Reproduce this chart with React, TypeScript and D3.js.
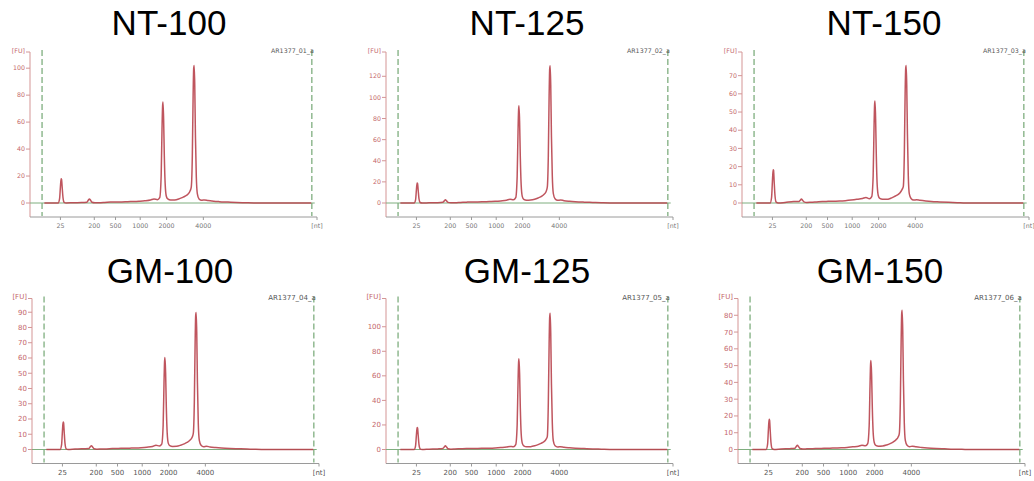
import React from "react";
import * as d3 from "d3";

// ---------- data ----------
const titles = ["NT-100", "NT-125", "NT-150", "GM-100", "GM-125", "GM-150"];
const sampleIds = ["AR1377_01_a", "AR1377_02_a", "AR1377_03_a", "AR1377_04_a", "AR1377_05_a", "AR1377_06_a"];
const yMaxes = [112, 143, 83, 99, 123, 90];
const yTickSteps = [20, 20, 10, 10, 20, 10];
const yTickMax = [100, 120, 70, 90, 100, 80];
const ladderNt = ["25", "200", "500", "1000", "2000", "4000"];
const ladderTimes = [24.3, 30.2, 33.9, 38.2, 42.8, 49.2];
const markerTimes = [21.1, 68.1];
const timeDomain = [19, 69];

const traceTimes = [
  21.5, 23.9, 24.15, 24.3, 24.42, 24.5, 24.6, 24.75, 24.95, 25.3,
  26.5, 28.0, 28.9, 29.15, 29.35, 29.55, 29.8, 30.3,
  31.0, 32.0, 33.0, 34.0, 35.0, 36.0, 37.0, 38.0, 39.0, 40.0, 40.6, 41.2, 41.6,
  41.85, 42.0, 42.1, 42.17, 42.28, 42.4, 42.55, 42.75, 43.0, 43.5,
  44.2, 44.9, 45.5, 46.0, 46.5, 46.9, 47.1,
  47.28, 47.42, 47.52, 47.6, 47.7, 47.82, 47.97, 48.15, 48.45, 48.9, 49.4, 50.0, 51.0, 52.0, 53.5, 55.0, 56.5, 58.0, 62.0, 68.0,
];

const fuNT100 = [
  0, 0, 3, 12, 18, 17.5, 12, 4, 0.5, 0,
  0.2, 0.3, 0.6, 2, 3, 2, 0.6, 0.2,
  0.2, 0.4, 0.7, 0.8, 0.8, 1, 1.1, 1.3, 1.6, 2.2, 3, 2.5, 4,
  20, 55, 72, 75, 62, 35, 14, 5, 3, 2.2,
  2.3, 3, 4, 5, 6.5, 9, 12,
  35, 80, 100, 102, 88, 50, 20, 7, 3, 2, 2.3, 1.8, 1.3, 1, 0.7, 0.4, 0.2, 0, 0, 0,
];
const fuNT125 = [
  0, 0, 3, 12.5, 19, 18.5, 12.5, 4, 0.5, 0,
  0.2, 0.3, 0.6, 2, 3, 2, 0.6, 0.2,
  0.2, 0.5, 0.8, 1, 1, 1.2, 1.4, 1.6, 2, 2.6, 3.5, 3, 5,
  25, 67, 88, 92, 76, 43, 17, 6, 3.5, 2.6,
  2.8, 3.6, 4.8, 6, 8, 11, 15,
  45, 102, 127, 130, 112, 64, 26, 9, 4, 2.5, 2.9, 2.2, 1.6, 1.2, 0.8, 0.5, 0.2, 0, 0, 0,
];
const fuNT150 = [
  0, 0, 3, 12, 18.3, 18, 12, 4, 0.5, 0,
  0.3, 0.8, 0.8, 1.5, 2.2, 1.5, 0.6, 0.3,
  0.4, 0.6, 0.8, 0.9, 1, 1.1, 1.3, 1.6, 2, 2.5, 3, 2.3, 3.5,
  15, 41, 54, 56, 46, 26, 10, 4, 2.5, 2,
  2, 2.6, 3.5, 4.3, 5.5, 7.5, 9,
  27, 60, 74, 75.6, 65, 38, 15, 5, 2.5, 1.6, 1.8, 1.5, 1.1, 0.8, 0.6, 0.4, 0.2, 0, 0, 0,
];
const fuGM100 = [
  0, 0, 3, 12, 18, 17.5, 12, 4, 0.5, 0,
  0.3, 0.5, 0.6, 1.8, 2.5, 1.7, 0.5, 0.2,
  0.3, 0.4, 0.6, 0.7, 0.8, 0.9, 1, 1.2, 1.5, 2, 2.8, 2.3, 3.5,
  16, 44, 58, 60.4, 50, 28, 11, 4, 2.5, 2,
  2.1, 2.8, 3.7, 4.6, 6, 8, 10.5,
  31, 70, 88, 89.8, 77, 44, 17, 6, 2.8, 1.8, 2.1, 1.7, 1.3, 1, 0.7, 0.5, 0.3, 0.1, 0, 0,
];
const fuGM125 = [
  0, 0, 3, 12, 18, 17.5, 12, 4, 0.5, 0,
  0.3, 0.5, 0.8, 2, 3, 2, 0.6, 0.3,
  0.4, 0.6, 0.8, 0.9, 0.9, 1, 1.1, 1.3, 1.6, 2, 2.5, 2.2, 4,
  20, 54, 71, 74, 61, 34, 13, 5, 3, 2.2,
  2.3, 3, 4, 5, 6.3, 8.5, 10.5,
  38, 86, 108, 111, 95, 54, 22, 7, 3, 2, 2.3, 1.8, 1.4, 1.1, 0.8, 0.5, 0.3, 0.1, 0, 0,
];
const fuGM150 = [
  0, 0, 3, 12, 18, 17.5, 12, 4, 0.5, 0,
  0.3, 0.5, 0.7, 1.8, 2.5, 1.7, 0.6, 0.3,
  0.4, 0.5, 0.6, 0.7, 0.8, 0.9, 1, 1.2, 1.6, 2, 2.6, 2.2, 3.5,
  14, 38, 51, 53, 44, 25, 10, 4, 2.5, 2,
  2.1, 2.7, 3.5, 4.4, 5.7, 7.5, 9.5,
  28, 64, 81, 83, 71, 41, 16, 5.5, 2.6, 1.7, 2, 1.6, 1.2, 0.9, 0.6, 0.4, 0.2, 0.1, 0, 0,
];
const traces = [fuNT100, fuNT125, fuNT150, fuGM100, fuGM125, fuGM150];

// ---------- layout ----------
const W = 1034;
const H = 481;
const panelAxisX = [30, 386, 742, 32, 386, 738];
const panelTop = [52, 52, 52, 298.5, 298.5, 298.5];
const titleY = [35, 35, 35, 283, 283, 283];
const titleX = [169, 527, 884, 170, 527, 880];
const plotW = 287;
const zeroOff = 151;
const bottomOff = 165;

const FONT = "'Liberation Sans', Arial, Helvetica, sans-serif";
const SMALL = "Tahoma, 'DejaVu Sans', Verdana, sans-serif";

function Panel({ i }: { i: number }) {
  const ax = panelAxisX[i];
  const top = panelTop[i];
  const bottom = top + bottomOff;
  const row2 = i >= 3;
  const fs = row2 ? 7 : 6.3;
  const x = d3.scaleLinear().domain(timeDomain).range([ax, ax + plotW]);
  const y = d3.scaleLinear().domain([0, yMaxes[i]]).range([top + zeroOff, top]);
  const yTicks = d3.range(0, yTickMax[i] + 0.001, yTickSteps[i]);
  const pts: [number, number][] = traceTimes.map((t, k) => [t, traces[i][k] ?? 0]);
  const line = d3
    .line<[number, number]>()
    .x((d) => x(d[0]))
    .y((d) => y(d[1]))
    .curve(d3.curveMonotoneX);
  const yColor = "#c4666a";
  const xColor = row2 ? "#555" : "#777";
  const green = "#7fae7f";
  return (
    <g>
      <text x={titleX[i]} y={titleY[i]} textAnchor="middle" fontFamily={FONT} fontSize={35} fill="#000">
        {titles[i]}
      </text>
      {/* y axis */}
      <line x1={ax} x2={ax} y1={top} y2={bottom} stroke="#d49595" strokeWidth={1} />
      {yTicks.map((v) => (
        <g key={v}>
          <line x1={ax - 4} x2={ax} y1={y(v)} y2={y(v)} stroke="#d49595" />
          <text x={ax - 5} y={y(v) + fs * 0.35} textAnchor="end" fontFamily={SMALL} fontSize={fs} fill={yColor}>
            {v}
          </text>
        </g>
      ))}
      <line x1={ax - 4} x2={ax} y1={top} y2={top} stroke="#d49595" />
      <text x={ax - 5} y={top + fs * 0.1} textAnchor="end" fontFamily={SMALL} fontSize={fs} fill={yColor}>
        [FU]
      </text>
      {/* x axis */}
      <line x1={ax} x2={ax + plotW} y1={bottom} y2={bottom} stroke="#9a9a9a" strokeWidth={1} />
      {ladderTimes.map((t, k) => (
        <g key={k}>
          <line x1={x(t)} x2={x(t)} y1={bottom} y2={bottom + 3} stroke="#9a9a9a" />
          <text x={x(t)} y={bottom + 11} textAnchor="middle" fontFamily={SMALL} fontSize={fs} fill={xColor}>
            {ladderNt[k]}
          </text>
        </g>
      ))}
      <line x1={ax + plotW} x2={ax + plotW} y1={bottom} y2={bottom + 3} stroke="#9a9a9a" />
      <text x={ax + plotW} y={bottom + 11} textAnchor="middle" fontFamily={SMALL} fontSize={fs} fill={xColor}>
        [nt]
      </text>
      {/* markers */}
      {markerTimes.map((t, k) => (
        <line
          key={k}
          x1={x(t)}
          x2={x(t)}
          y1={top - 2}
          y2={bottom - 1}
          stroke={green}
          strokeWidth={1.3}
          strokeDasharray="6,3"
        />
      ))}
      {/* baseline */}
      <line x1={ax} x2={x(68.6)} y1={y(0)} y2={y(0)} stroke={green} strokeWidth={1} />
      {/* trace */}
      <path d={line(pts) ?? ""} fill="none" stroke="#b8434d" strokeWidth={1.5} strokeOpacity={0.9} strokeLinejoin="round" />
      <text x={x(markerTimes[1]) + 2} y={top + 1} textAnchor="end" fontFamily={SMALL} fontSize={fs} fill="#555">
        {sampleIds[i]}
      </text>
    </g>
  );
}

export default function App() {
  return (
    <svg
      width={W}
      height={H}
      viewBox={`0 0 ${W} ${H}`}
      style={{ position: "absolute", left: 0, top: 0, background: "#fff" }}
    >
      <rect x={0} y={0} width={W} height={H} fill="#fff" />
      {titles.map((_, i) => (
        <Panel key={i} i={i} />
      ))}
    </svg>
  );
}
